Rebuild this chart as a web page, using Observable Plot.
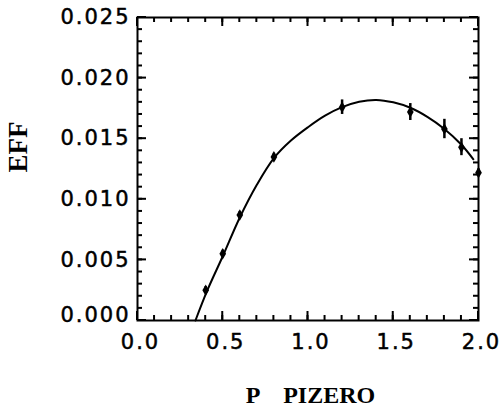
<!DOCTYPE html>
<html>
<head>
<meta charset="utf-8">
<script src="https://cdn.jsdelivr.net/npm/d3@7"></script>
<script src="https://cdn.jsdelivr.net/npm/@observablehq/plot@0.6"></script>
<style>
  html, body { margin: 0; padding: 0; background: #fff; }
  #chart svg text { white-space: pre; }
  #chart g[aria-label$="tick label"] text { letter-spacing: 2px; }
</style>
</head>
<body>
<div id="chart"></div>
<script>
// Axis titles
const xLabel = "P    PIZERO";
const yLabel = "EFF";

// Axis ranges and tick values
const xDomain = [0, 2];
const yDomain = [0, 0.025];
const xTicks = [0, 0.5, 1.0, 1.5, 2.0];
const xMinorTicks = [0, 0.1, 0.2, 0.3, 0.4, 0.5, 0.6, 0.7, 0.8, 0.9, 1.0,
                     1.1, 1.2, 1.3, 1.4, 1.5, 1.6, 1.7, 1.8, 1.9, 2.0];
const yTicks = [0, 0.005, 0.010, 0.015, 0.020, 0.025];
const yMinorTicks = [0, 0.001, 0.002, 0.003, 0.004, 0.005, 0.006, 0.007, 0.008, 0.009,
                     0.010, 0.011, 0.012, 0.013, 0.014, 0.015, 0.016, 0.017, 0.018, 0.019,
                     0.020, 0.021, 0.022, 0.023, 0.024, 0.025];

// Measured points with errors
const pointP   = [0.4,    0.5,    0.6,    0.8,    1.2,    1.6,    1.8,    1.9,    2.0];
const pointEff = [0.0025, 0.0055, 0.0087, 0.0135, 0.0176, 0.0172, 0.0158, 0.0143, 0.0122];
const pointErr = [0.0003, 0.0003, 0.0003, 0.0003, 0.0006, 0.0007, 0.0008, 0.0007, 0.0003];

// Fitted curve
const curveP   = [0.34, 0.41,   0.5,    0.6,    0.7,    0.8,    0.9,     1.0,     1.1,    1.2,
                  1.3,     1.4,    1.5,    1.6,     1.7,    1.8,    1.9,    1.97];
const curveEff = [0.0,  0.0025, 0.0053, 0.0085, 0.0112, 0.0134, 0.01485, 0.01595, 0.0169, 0.0176,
                  0.01805, 0.0182, 0.0180, 0.01755, 0.0168, 0.0158, 0.0145, 0.0133];

const points = pointP.map((p, i) => ({p, eff: pointEff[i], err: pointErr[i]}));
const curve = curveP.map((p, i) => ({p, eff: curveEff[i]}));

const W = 502, H = 410;
const M = {left: 137, right: 24, top: 17, bottom: 90};
const MAJOR = 9, MINOR = 5; // tick lengths in pixels

const tickFont = {fontFamily: "DejaVu Sans", fontSize: 21, textStroke: "black", textStrokeWidth: 0.5};
const titleFont = {fontFamily: "Liberation Serif", fontWeight: "bold"};

const chart = Plot.plot({
  width: W,
  height: H,
  marginLeft: M.left,
  marginRight: M.right,
  marginTop: M.top,
  marginBottom: M.bottom,
  style: {background: "white", color: "black", overflow: "visible"},
  x: {domain: xDomain, label: null},
  y: {domain: yDomain, label: null},
  marks: [
    Plot.frame({fill: "none", stroke: "black", strokeWidth: 2}),
    // tick labels
    Plot.axisX(xTicks, {anchor: "bottom", tickSize: 0, tickPadding: 14, label: null,
      tickFormat: d3.format(".1f"), dx: 3, ...tickFont}),
    Plot.axisY(yTicks.filter(d => d !== 0), {anchor: "left", tickSize: 0, tickPadding: 7, label: null,
      tickFormat: d3.format(".3f"), ...tickFont}),
    Plot.axisY(yTicks.filter(d => d === 0), {anchor: "left", tickSize: 0, tickPadding: 7, label: null,
      tickFormat: d3.format(".3f"), dy: -5, ...tickFont}),
    // data
    Plot.line(curve, {x: "p", y: "eff", curve: "catmull-rom", strokeWidth: 2}),
    Plot.ruleX(points, {x: "p", y1: d => d.eff - d.err, y2: d => d.eff + d.err, strokeWidth: 2.5}),
    Plot.dot(points, {x: "p", y: "eff", symbol: "diamond", r: 3.5, fill: "black", stroke: "none"}),
    // axis titles
    Plot.text([xLabel], {text: d => d, frameAnchor: "bottom", lineAnchor: "bottom", dy: 82, dx: 2.5,
      fontSize: 24, ...titleFont}),
    Plot.text([yLabel], {text: d => d, frameAnchor: "left", dx: -119, dy: 3.5, rotate: -90,
      fontSize: 27, ...titleFont})
  ]
});

// Inward ticks on all four sides, positioned through the plot's own scales
const sx = chart.scale("x"), sy = chart.scale("y");
const x0 = sx.apply(xDomain[0]), x1 = sx.apply(xDomain[1]);
const y0 = sy.apply(yDomain[0]), y1 = sy.apply(yDomain[1]);
const svg = d3.select(chart.tagName.toLowerCase() === "svg" ? chart : chart.querySelector("svg"));
const g = svg.append("g").attr("stroke", "black").attr("stroke-width", 2);
for (const [list, len] of [[xMinorTicks, MINOR], [xTicks, MAJOR]]) {
  for (const v of list) {
    const px = sx.apply(v);
    g.append("line").attr("x1", px).attr("x2", px).attr("y1", y0).attr("y2", y0 - len);
    g.append("line").attr("x1", px).attr("x2", px).attr("y1", y1).attr("y2", y1 + len);
  }
}
for (const [list, len] of [[yMinorTicks, MINOR], [yTicks, MAJOR]]) {
  for (const v of list) {
    const py = sy.apply(v);
    g.append("line").attr("y1", py).attr("y2", py).attr("x1", x0).attr("x2", x0 + len);
    g.append("line").attr("y1", py).attr("y2", py).attr("x1", x1).attr("x2", x1 - len);
  }
}

document.getElementById("chart").appendChild(chart);
</script>
</body>
</html>
